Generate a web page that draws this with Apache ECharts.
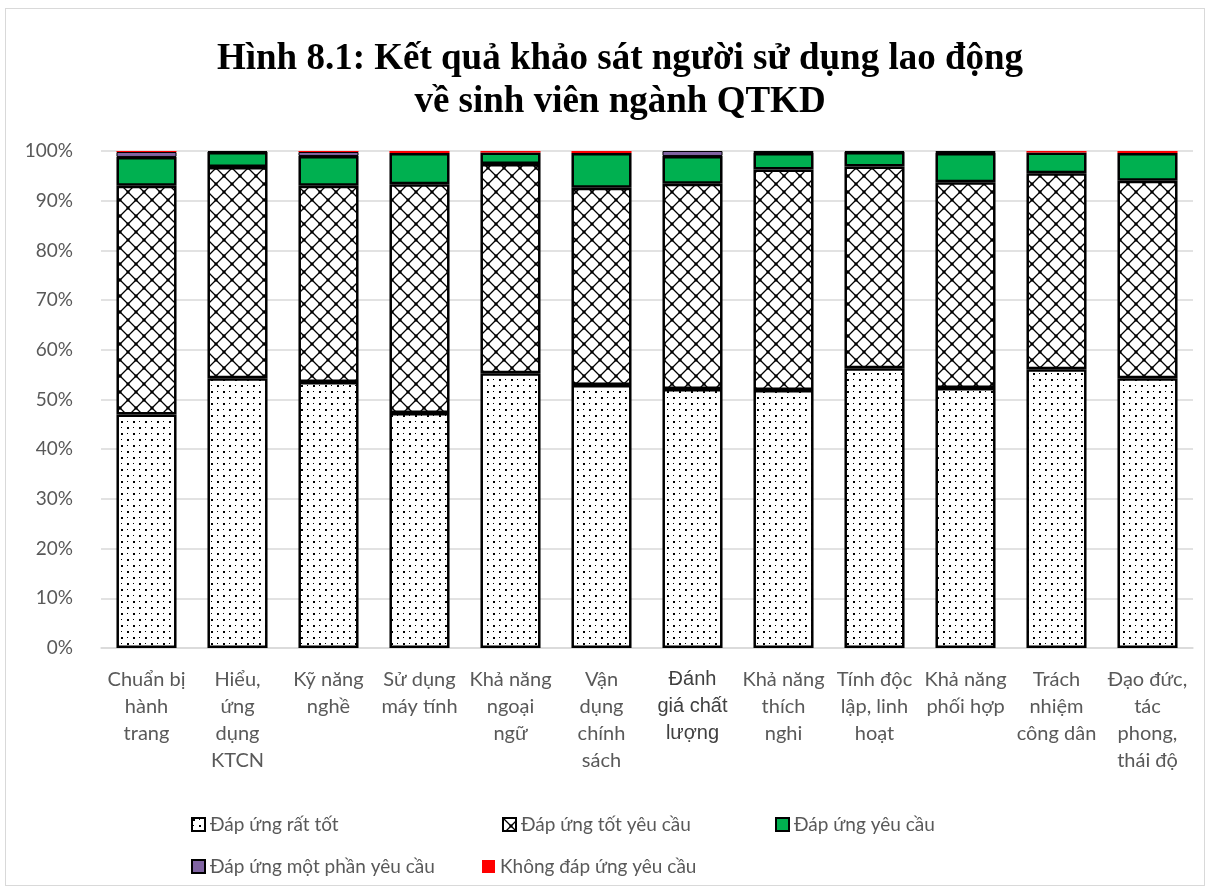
<!DOCTYPE html>
<html><head><meta charset="utf-8">
<script src="https://cdn.jsdelivr.net/npm/echarts@6/dist/echarts.min.js"></script>
<style>
html,body{margin:0;padding:0;background:#fff;}
#frame{position:absolute;left:5px;top:8px;width:1200px;height:878px;border:1px solid #d9d9d9;box-sizing:border-box;}
#c{position:absolute;left:0;top:0;width:1212px;height:891px;}
</style></head>
<body>
<div id="frame"></div>
<div id="c"></div>
<script>
const categories = ["Chuẩn bị\nhành\ntrang","Hiểu,\nứng\ndụng\nKTCN","Kỹ năng\nnghề","Sử dụng\nmáy tính","Khả năng\nngoại\nngữ","Vận\ndụng\nchính\nsách","Đánh\ngiá chất\nlượng","Khả năng\nthích\nnghi","Tính độc\nlập, linh\nhoạt","Khả năng\nphối hợp","Trách\nnhiệm\ncông dân","Đạo đức,\ntác\nphong,\nthái độ"];
const seriesNames = ["Đáp ứng rất tốt","Đáp ứng tốt yêu cầu","Đáp ứng yêu cầu","Đáp ứng một phần yêu cầu","Không đáp ứng yêu cầu"];
const rat_tot = [47.0,54.3,53.5,47.3,55.3,52.9,52.1,51.9,56.3,52.3,56.1,54.3];
const tot_yeu_cau = [46.0,42.5,39.5,46.0,42.1,39.7,41.3,44.4,40.6,41.4,39.4,39.7];
const yeu_cau = [5.8,3.0,6.0,6.3,2.3,7.0,5.6,3.3,2.9,5.9,4.2,5.6];
const mot_phan = [1.0,0.2,0.8,0.0,0.0,0.0,1.0,0.4,0.2,0.4,0.0,0.0];
const khong = [0.2,0.0,0.2,0.4,0.3,0.4,0.0,0.0,0.0,0.0,0.3,0.4];
const yTicks = ["0%","10%","20%","30%","40%","50%","60%","70%","80%","90%","100%"];

function dotPattern(){
  const c=document.createElement('canvas');c.width=12;c.height=12;
  const g=c.getContext('2d');g.fillStyle='#fff';g.fillRect(0,0,12,12);
  g.fillStyle='#000';
  g.fillRect(1,1,2,2);g.fillRect(7,7,2,2);
  g.fillRect(7,1,1,1);g.fillRect(1,7,1,1);
  return c;
}
function diamondPattern(){
  const s=16;const c=document.createElement('canvas');c.width=s;c.height=s;
  const g=c.getContext('2d');g.fillStyle='#fff';g.fillRect(0,0,s,s);
  g.strokeStyle='#000';g.lineWidth=1.3;
  g.beginPath();
  g.moveTo(0,0);g.lineTo(s,s);
  g.moveTo(s,0);g.lineTo(0,s);
  g.stroke();
  g.fillStyle='#000';
  g.fillRect(s/2-1.5,s/2-1.5,3,3);
  g.fillRect(-1.5,-1.5,3,3);g.fillRect(s-1.5,-1.5,3,3);g.fillRect(-1.5,s-1.5,3,3);g.fillRect(s-1.5,s-1.5,3,3);
  return c;
}
const fills = [
  {image: dotPattern(), repeat:'repeat'},
  {image: diamondPattern(), repeat:'repeat'},
  '#00b050','#8064a2','#ff0000'
];
const borderW=[2.5,2.5,2.5,1,0];
const dataArr=[rat_tot,tot_yeu_cau,yeu_cau,mot_phan,khong];
const FONT='Lato, "Open Sans", sans-serif';
const TXT='#595959';

const chart=echarts.init(document.getElementById('c'),null,{renderer:'canvas'});
const legendPos=[[186,810],[497,810],[770,810],[186,852],[477,852]];
const legends=seriesNames.map((n,i)=>({
  data:[n],left:legendPos[i][0],top:legendPos[i][1],
  itemWidth:13,itemHeight:13,itemGap:4,icon:'rect',
  textStyle:{fontFamily:FONT,fontSize:19,color:TXT},
  itemStyle:{borderColor:i===4?'#ff0000':'#000',borderWidth:i===4?0:2}
}));
chart.setOption({
  animation:false,
  title:{text:'Hình 8.1: Kết quả khảo sát người sử dụng lao động\nvề sinh viên ngành QTKD',left:615,top:33,textAlign:'center',
    textStyle:{fontFamily:'"Liberation Serif","Times New Roman",serif',fontSize:37,fontWeight:'bold',color:'#000',lineHeight:43}},
  legend:legends,
  grid:{left:101,right:19,top:151,bottom:243,containLabel:false},
  xAxis:{type:'category',data:categories,
    axisLine:{show:true,lineStyle:{color:'#d9d9d9',width:1.5}},axisTick:{show:false},
    axisLabel:{interval:0,fontFamily:FONT,fontSize:20,color:TXT,lineHeight:27,margin:18,
      formatter:(v,i)=> i===6 ? '{a|'+v.split('\n').join('}\n{a|')+'}' : v,
      rich:{a:{fontFamily:'"Liberation Sans",Arial,sans-serif',fontSize:20,color:'#404040',lineHeight:27}}}},
  yAxis:{type:'value',min:0,max:100,interval:10,
    axisLabel:{formatter:(v)=>yTicks[Math.round(v/10)],fontFamily:FONT,fontSize:19,color:TXT,margin:28},
    axisLine:{show:false},axisTick:{show:false},
    splitLine:{lineStyle:{color:'#d9d9d9',width:1.5}}},
  series:seriesNames.map((n,i)=>({
    name:n,type:'bar',stack:'s',data:dataArr[i].map(v=>v===0?'-':v),barCategoryGap:'34%',
    itemStyle:{color:fills[i],borderColor:i===4?'#ff0000':'#000',borderWidth:borderW[i]}
  }))
});
</script>
</body></html>
